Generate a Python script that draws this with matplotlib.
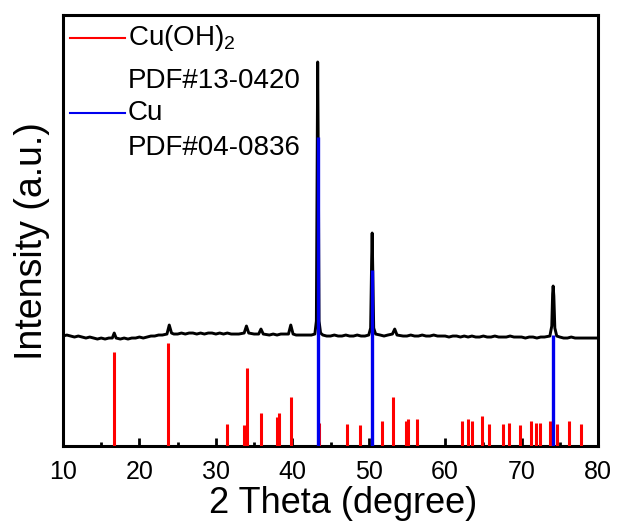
import matplotlib
matplotlib.use("Agg")
import matplotlib.pyplot as plt
from matplotlib.lines import Line2D

plt.rcParams['font.family'] = ['Liberation Sans', 'DejaVu Sans']
plt.rcParams['mathtext.fontset'] = 'custom'
plt.rcParams['mathtext.rm'] = 'Liberation Sans'
plt.rcParams['mathtext.it'] = 'Liberation Sans'

# ---- measured XRD pattern (2theta, intensity a.u.) ----
two_theta = [10.0, 10.5, 11.0, 11.5, 12.0, 12.5, 13.0, 13.5, 14.0, 14.5, 15.0, 15.5,
             16.0, 16.45, 16.7, 16.95, 17.5, 18.0, 18.5, 19.0, 19.5, 20.0, 20.5, 21.0,
             21.5, 22.0, 22.5, 23.0, 23.6, 23.9, 24.2, 24.5, 25.0, 25.5, 26.0, 26.5,
             27.0, 27.5, 28.0, 28.5, 29.0, 29.5, 30.0, 30.5, 31.0, 31.5, 32.0, 32.5,
             33.0, 33.7, 34.0, 34.3, 35.0, 35.6, 35.9, 36.2, 37.0, 37.5, 38.0, 38.5,
             39.0, 39.5, 39.8, 40.1, 40.5, 41.0, 41.5, 42.0, 42.5, 42.95, 43.15, 43.25,
             43.32, 43.4, 43.5, 43.7, 44.0, 44.5, 45.0, 45.5, 46.0, 46.5, 47.0, 47.5,
             48.0, 48.5, 49.0, 49.5, 50.0, 50.25, 50.38, 50.45, 50.52, 50.65, 50.9, 51.5,
             52.0, 52.5, 53.1, 53.4, 53.7, 54.5, 55.0, 55.5, 56.0, 56.5, 57.0, 57.5,
             58.0, 58.5, 59.0, 59.5, 60.0, 60.5, 61.0, 61.5, 62.0, 62.5, 63.0, 63.5,
             64.0, 64.5, 65.0, 65.5, 66.0, 66.5, 67.0, 67.5, 68.0, 68.5, 69.0, 69.5,
             70.0, 70.5, 71.0, 71.5, 72.0, 72.5, 73.0, 73.7, 73.95, 74.06, 74.13, 74.22,
             74.35, 74.6, 75.0, 75.5, 76.0, 76.5, 77.0, 77.5, 78.0, 78.5, 79.0, 79.5, 80.0]
intensity = [110, 111, 110, 109, 110, 109, 108, 109, 108, 107, 108, 107,
             108, 108, 113, 108, 107, 108, 107, 108, 108, 109, 108, 109,
             110, 110, 111, 111, 112, 121, 113, 112, 112, 113, 112, 113,
             113, 112, 113, 112, 113, 113, 112, 113, 112, 113, 112, 112,
             112, 113, 120, 113, 112, 112, 117, 112, 111, 112, 111, 112,
             112, 112, 121, 112, 111, 111, 111, 111, 111, 112, 125, 290,
             384, 290, 125, 113, 111, 110, 110, 111, 110, 110, 111, 110,
             110, 111, 110, 110, 111, 118, 185, 213, 180, 118, 112, 111,
             110, 111, 112, 117, 111, 110, 110, 111, 110, 110, 111, 110,
             110, 111, 110, 110, 110, 109, 110, 110, 109, 110, 109, 110,
             109, 109, 110, 109, 109, 110, 109, 109, 109, 110, 109, 109,
             109, 108, 109, 109, 108, 109, 109, 110, 120, 152, 160, 150,
             118, 110, 109, 108, 108, 109, 108, 108, 108, 108, 108, 108, 108]

# ---- reference sticks ----
cuoh2_pos = [16.71, 23.78, 31.5, 33.72, 34.03, 35.87, 38.0, 38.2, 39.8, 43.55,
             47.12, 48.8, 51.7, 53.2, 54.88, 55.2, 56.27, 62.15, 62.94, 63.5,
             64.8, 65.7, 67.57, 68.35, 69.8, 71.2, 71.85, 72.4, 73.7, 74.6,
             76.2, 77.8]
cuoh2_int = [94, 103, 22, 21, 78, 33, 29, 33, 49, 23,
             22, 21, 25, 49, 25, 27, 27, 25, 27, 25,
             30, 22, 22, 23, 21, 25, 23, 23, 25, 22,
             25, 22]
cu_pos = [43.32, 50.45, 74.12]
cu_int = [309, 176, 111]

fig = plt.figure(figsize=(6.19, 5.26), dpi=100)
ax = fig.add_axes([0.1018, 0.152, 0.8643, 0.8195])

ax.plot(two_theta, intensity, color='black', lw=2.1, zorder=2)
ax.vlines(cuoh2_pos, 0, cuoh2_int, colors='#ff0000', lw=2.2, zorder=3)
ax.vlines(cu_pos, 0, cu_int, colors='#0000ee', lw=2.4, zorder=4)

ax.set_xlim(10, 80)
ax.set_ylim(0, 431)
ax.set_xticks(range(10, 81, 10))
ax.set_xticks(range(15, 80, 10), minor=True)
ax.set_yticks([])
ax.tick_params(axis='x', which='major', direction='in', length=6, width=2,
               labelsize=18, pad=10)
ax.tick_params(axis='x', which='minor', direction='in', length=3, width=2)
for s in ax.spines.values():
    s.set_linewidth(2.2)

ax.set_xlabel('2 Theta (degree)', fontsize=26)
ax.xaxis.set_label_coords(0.523, -0.092)
ax.set_ylabel('Intensity (a.u.)', fontsize=27)
ax.yaxis.set_label_coords(-0.025, 0.475)

# legend (manual, two-line labels)
ax.add_line(Line2D([0.013, 0.116], [0.9466, 0.9466], color='#ff0000', lw=1.5,
                   transform=ax.transAxes))
ax.add_line(Line2D([0.013, 0.116], [0.7726, 0.7726], color='#0000ee', lw=1.5,
                   transform=ax.transAxes))
ax.text(0.1215, 0.9466, 'Cu(OH)$_2$', transform=ax.transAxes, fontsize=20,
        va='center', ha='left')
ax.text(0.1215, 0.8469, 'PDF#13-0420', transform=ax.transAxes, fontsize=20,
        va='center', ha='left')
ax.text(0.1215, 0.7726, 'Cu', transform=ax.transAxes, fontsize=20,
        va='center', ha='left')
ax.text(0.1215, 0.6914, 'PDF#04-0836', transform=ax.transAxes, fontsize=20,
        va='center', ha='left')

fig.savefig('out.png', dpi=100)
